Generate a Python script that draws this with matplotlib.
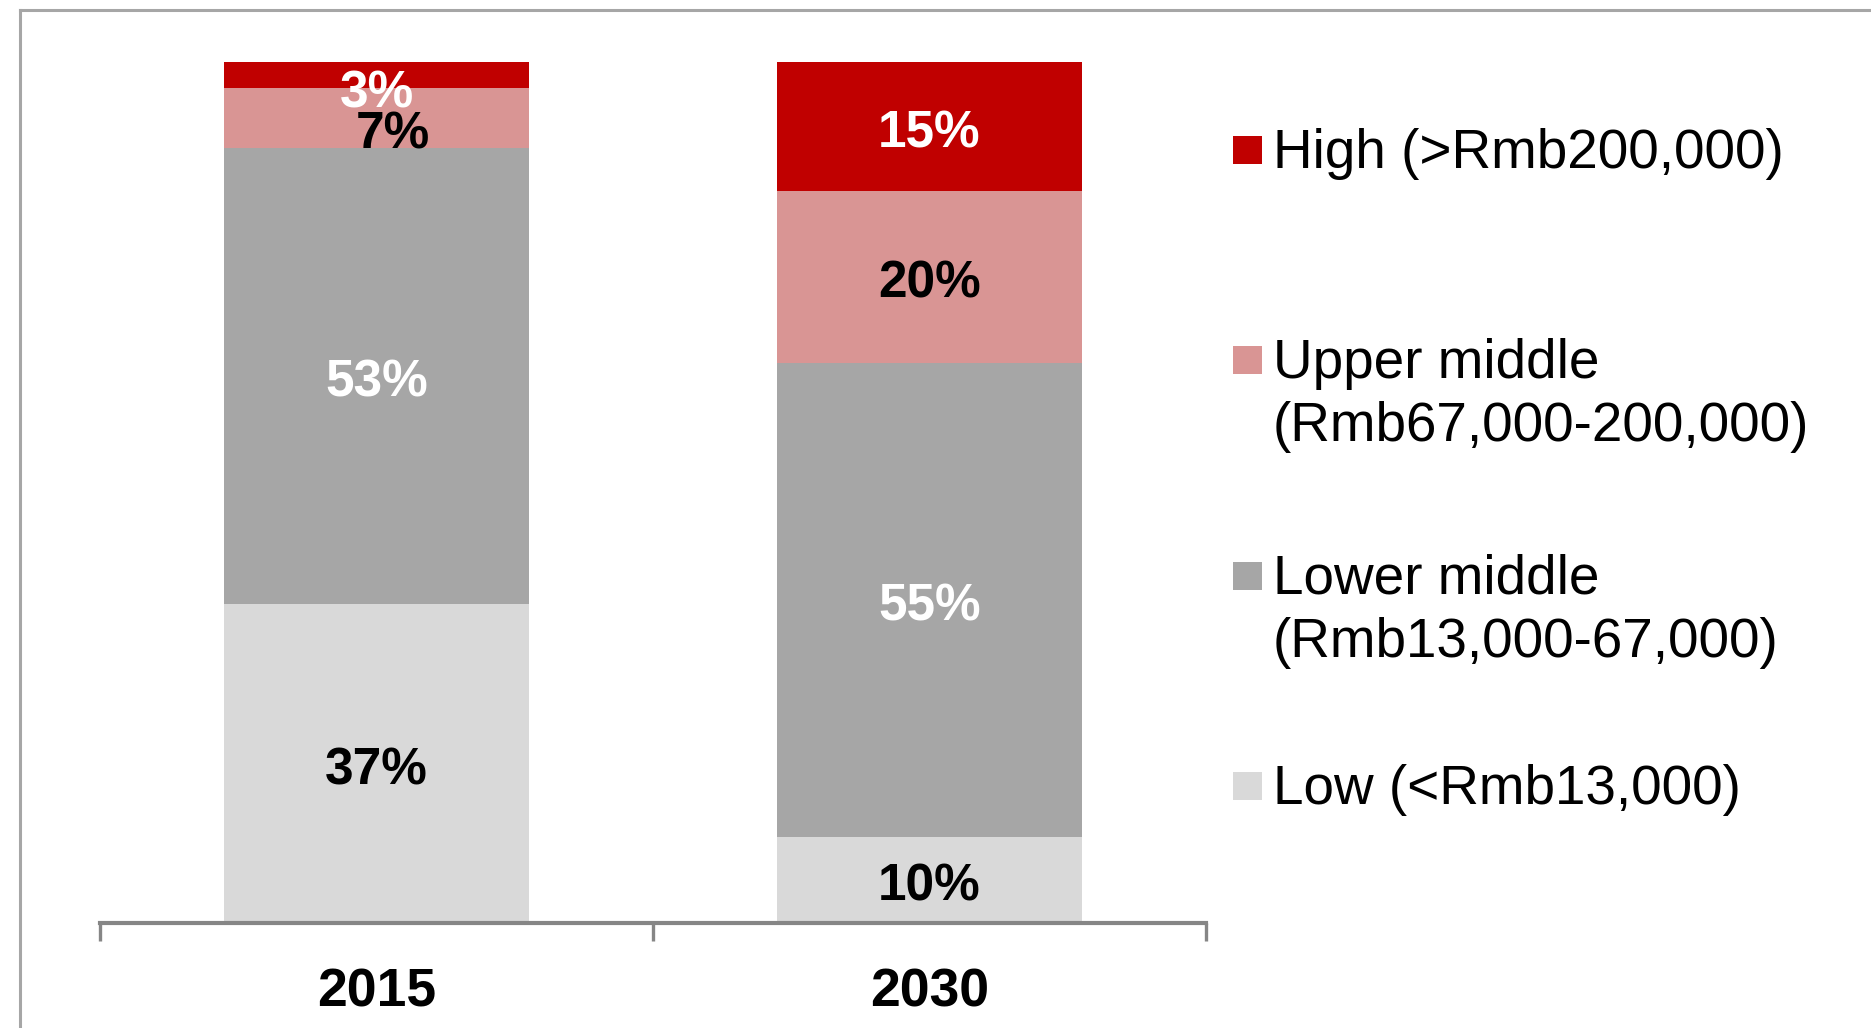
import numpy as np
import matplotlib.pyplot as plt
from matplotlib.patches import Rectangle
from matplotlib.lines import Line2D

plt.rcParams['font.family'] = ['Liberation Sans', 'DejaVu Sans']

# income groups, bottom to top
years = ['2015', '2030']
groups = ['Low (<Rmb13,000)', 'Lower middle\n(Rmb13,000-67,000)',
          'Upper middle\n(Rmb67,000-200,000)', 'High (>Rmb200,000)']
low = [37, 10]
lower_mid = [53, 55]
upper_mid = [7, 20]
high = [3, 15]

colors = ['#d9d9d9', '#a6a6a6', '#d99594', '#c00000']
text_colors = ['black', 'white', 'black', 'white']

W, H = 1871, 1028
fig = plt.figure(figsize=(W / 100, H / 100), dpi=100)
ax = fig.add_axes([100 / W, 1 - 923 / H, 1106 / W, 861 / H])

x = np.arange(len(years))
bottom = np.zeros(len(years))
# thin segments get their labels pushed a bit (points)
nudge = {(0, 2): (12, -12), (0, 3): (0, -14)}
for i, vals in enumerate([low, lower_mid, upper_mid, high]):
    vals = np.array(vals, dtype=float)
    ax.bar(x, vals, bottom=bottom, width=0.553, color=colors[i], linewidth=0)
    for j in range(len(years)):
        dx, dy = nudge.get((j, i), (0, -5))
        ax.annotate(f'{vals[j]:.0f}%', (x[j], bottom[j] + vals[j] / 2),
                    xytext=(dx, dy), textcoords='offset points',
                    ha='center', va='center', fontsize=37, fontweight='bold',
                    color=text_colors[i])
    bottom += vals

ax.set_xlim(-0.5, 1.5)
ax.set_ylim(0, 100)
ax.set_xticks(x)
ax.set_xticklabels(years, fontsize=38.5, fontweight='bold')
ax.set_xticks([-0.5, 0.5, 1.5], minor=True)
ax.tick_params(axis='x', which='major', length=0, pad=32)
ax.tick_params(axis='x', which='minor', length=13, width=2.4, color='#868686')
ax.set_yticks([])
for s in ['top', 'right', 'left']:
    ax.spines[s].set_visible(False)
ax.spines['bottom'].set_color('#868686')
ax.spines['bottom'].set_linewidth(3)

# legend on the right, marker lined up with first line of each label
row_y = [786, 576, 360, 150]
for i in range(len(groups)):
    y = row_y[i]
    fig.patches.append(Rectangle((1233 / W, 1 - (y + 14) / H), 29 / W, 28 / H,
                                 transform=fig.transFigure, color=colors[i],
                                 linewidth=0))
    for k, line in enumerate(groups[i].split('\n')):
        fig.text(1273 / W, 1 - (y + 18 + 63 * k) / H, line, fontsize=39.5,
                 va='baseline', ha='left', color='black')

# outer frame
fig.add_artist(Line2D([20 / W, 20 / W], [0, 1 - 10 / H], color='#a6a6a6', lw=2.2))
fig.add_artist(Line2D([20 / W, 1], [1 - 10 / H, 1 - 10 / H], color='#a6a6a6', lw=2.2))

fig.savefig('out.png', dpi=100)
